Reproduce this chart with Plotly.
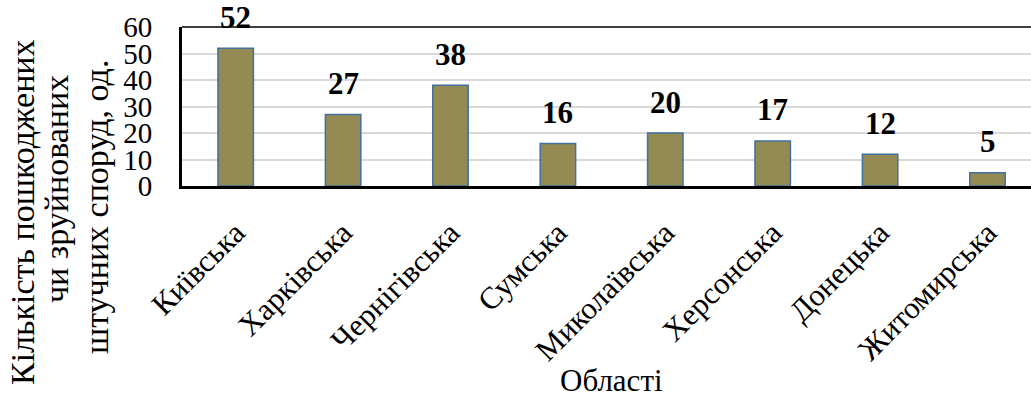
import plotly.graph_objects as go

# Damaged or destroyed artificial structures by oblast
regions = ["Київська", "Харківська", "Чернігівська", "Сумська",
           "Миколаївська", "Херсонська", "Донецька", "Житомирська"]
counts = [52, 27, 38, 16, 20, 17, 12, 5]
y_ticks = [0, 10, 20, 30, 40, 50, 60]
y_title_lines = ["Кількість пошкоджених", "чи зруйнованих", "штучних споруд, од."]
x_title = "Області"

FONT = "Liberation Serif"
W, H = 1031, 407
M_L, M_T, M_B, M_R = 182, 27, 221, 0
plot_w = W - M_L - M_R
plot_h = H - M_T - M_B


def px_x(px):
    return (px - M_L) / plot_w


def px_y(px):
    return (M_T + plot_h - px) / plot_h


fig = go.Figure()
fig.add_trace(go.Bar(
    x=list(range(len(regions))),
    y=counts,
    width=0.33,
    marker=dict(color="#948A54", line=dict(color="#41719C", width=1.5)),
    hoverinfo="skip",
))

# value labels above each bar
for i, v in enumerate(counts):
    fig.add_annotation(
        x=i, y=v, xref="x", yref="y", text=f"<b>{v}</b>",
        showarrow=False, yanchor="middle", yshift=31,
        font=dict(family=FONT, size=31, color="black"),
    )

# top border of the plot area
fig.add_shape(type="line", xref="paper", yref="paper", x0=0, x1=1, y0=1, y1=1,
              line=dict(color="black", width=1.5))

# y-axis title, one annotation per line
for line, cx, cy in zip(y_title_lines, [22, 56, 96], [212, 189, 207]):
    fig.add_annotation(
        xref="paper", yref="paper", x=px_x(cx), y=px_y(cy),
        text=line, textangle=-90, showarrow=False,
        xanchor="center", yanchor="middle",
        font=dict(family=FONT, size=34, color="black"),
    )

# x-axis title
fig.add_annotation(
    xref="paper", yref="paper", x=px_x(611), y=px_y(380),
    text=x_title, showarrow=False, xanchor="center", yanchor="middle",
    font=dict(family=FONT, size=31, color="black"),
)

fig.update_layout(
    width=W, height=H,
    margin=dict(l=M_L, r=M_R, t=M_T, b=M_B),
    paper_bgcolor="white", plot_bgcolor="white",
    showlegend=False,
    xaxis=dict(
        range=[-0.5, 7.405],
        tickmode="array", tickvals=list(range(len(regions))), ticktext=regions,
        tickangle=-45, tickfont=dict(family=FONT, size=31, color="black"),
        showline=True, linecolor="black", linewidth=3,
        showgrid=False, ticks="", ticklabelstandoff=13,
    ),
    yaxis=dict(
        range=[0, 60],
        tickmode="array", tickvals=y_ticks,
        tickfont=dict(family=FONT, size=29, color="black"),
        showline=True, linecolor="black", linewidth=3,
        showgrid=True, gridcolor="#D9D9D9", gridwidth=1.5,
        zeroline=False, ticks="", ticklabelstandoff=21,
    ),
)

fig.write_html("out.html")
